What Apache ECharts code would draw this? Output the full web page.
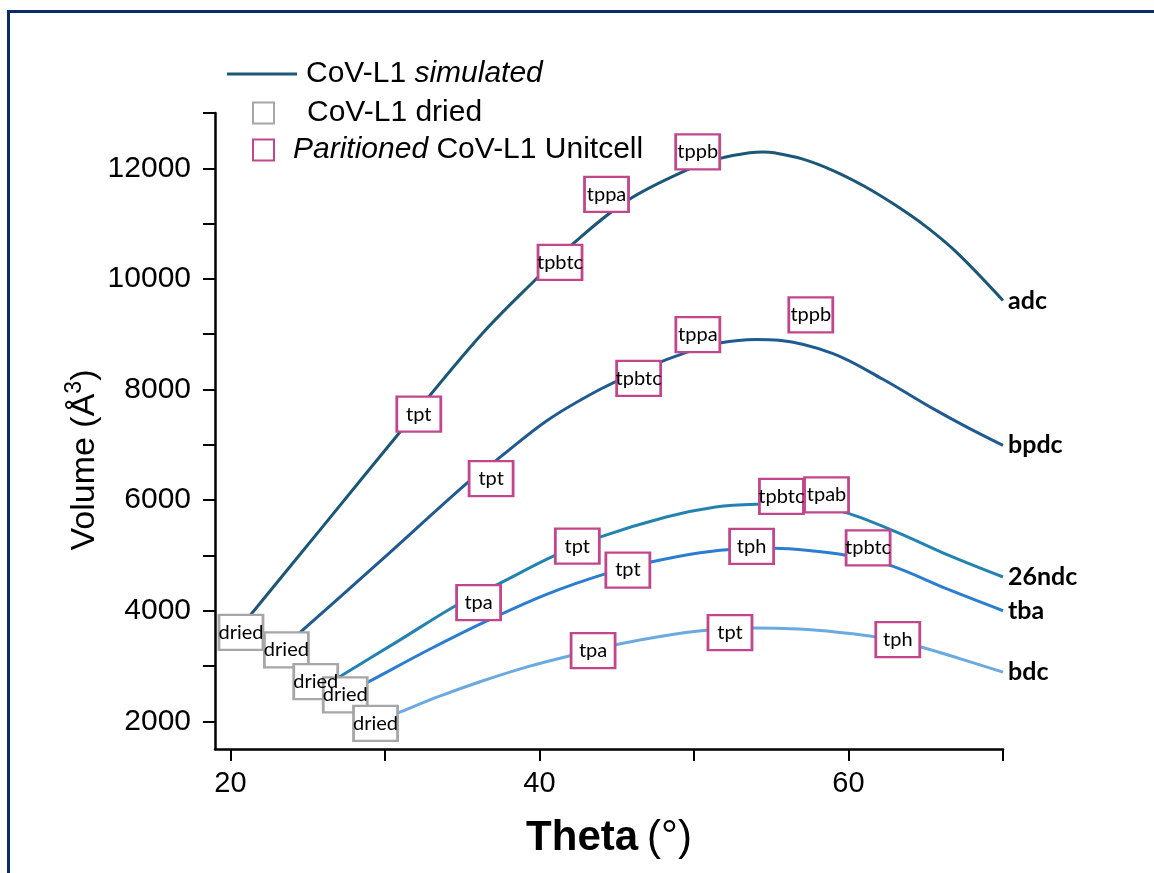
<!DOCTYPE html>
<html><head><meta charset="utf-8">
<script src="https://cdn.jsdelivr.net/npm/echarts@6/dist/echarts.min.js"></script>
<style>html,body{margin:0;padding:0;background:#fff}#c{width:1154px;height:873px}</style>
</head><body><div id="c"></div>
<script>
// ---- tick values ----
const xTickValues = [20, 30, 40, 50, 60, 70];
const xLabelValues = [20, 40, 60];
const yTickValues = [2000, 3000, 4000, 5000, 6000, 7000, 8000, 9000, 10000, 11000, 12000, 13000];
const yLabelValues = [2000, 4000, 6000, 8000, 10000, 12000];

// ---- simulated curves (theta, volume) ----
const curveNames = ['adc', 'bpdc', '26ndc', 'tba', 'bdc'];
const adcTheta = [20.7, 26.0, 31.0, 36.2, 39.9, 42.1, 45.7, 49.7, 51.7, 53.6, 54.5, 55.3, 57.0, 59.0, 61.0, 63.0, 65.0, 67.0, 70.0];
const adcVol   = [3720, 5530, 7240, 8980, 10030, 10620, 11420, 11990, 12180, 12280, 12295, 12275, 12170, 11960, 11680, 11340, 10950, 10480, 9610];
const bpdcTheta = [23.6, 24.6, 29.75, 35.4, 37.2, 40.5, 43.9, 46.8, 49.6, 51.65, 54.0, 55.5, 59.0, 62.2, 65.5, 67.6, 70.0];
const bpdcVol   = [3385, 3630, 4910, 6330, 6720, 7440, 8000, 8380, 8680, 8840, 8905, 8890, 8650, 8190, 7650, 7330, 6990];
const ndcTheta = [25.5, 27.2, 30.9, 34.6, 37.3, 41.0, 43.9, 48.2, 51.4, 54.0, 56.0, 58.0, 60.0, 63.3, 66.5, 70.0];
const ndcVol   = [2550, 2830, 3460, 4095, 4477, 5000, 5330, 5694, 5875, 5925, 5930, 5880, 5760, 5400, 5000, 4610];
const tbaTheta = [27.4, 28.9, 32.8, 36.7, 40.5, 44.3, 47.2, 50.4, 53.0, 55.2, 57.9, 59.9, 62.7, 66.5, 70.0];
const tbaVol   = [2500, 2710, 3290, 3830, 4300, 4670, 4880, 5050, 5120, 5130, 5075, 5000, 4820, 4380, 4000];
const bdcTheta = [29.4, 30.8, 33.5, 36.2, 39.2, 42.1, 45.0, 48.0, 51.0, 53.8, 56.8, 59.3, 61.8, 64.6, 67.2, 70.0];
const bdcVol   = [2000, 2150, 2450, 2720, 2985, 3195, 3390, 3545, 3650, 3688, 3668, 3612, 3525, 3350, 3135, 2890];

// ---- dried points ----
const driedLabels = ['dried', 'dried', 'dried', 'dried', 'dried'];
const driedTheta = [20.68, 23.62, 25.52, 27.43, 29.39];
const driedVol   = [3609, 3293, 2720, 2479, 1964];

// ---- partitioned unit cell points ----
const partLabels = ['tpt', 'tpbtc', 'tppa', 'tppb', 'tpt', 'tpbtc', 'tppa', 'tppb', 'tpa', 'tpt', 'tpbtc', 'tpab', 'tpt', 'tph', 'tpbtc', 'tpa', 'tpt', 'tph'];
const partTheta  = [32.19, 41.33, 44.34, 50.24, 36.87, 46.42, 50.25, 57.56, 36.06, 42.45, 55.66, 58.58, 45.72, 53.73, 61.27, 43.47, 52.33, 63.19];
const partVol    = [7554, 10299, 11528, 12296, 6388, 8201, 8993, 9350, 4148, 5168, 6068, 6095, 4736, 5164, 5137, 3278, 3606, 3479];

const curveColors = ['#1b5878', '#1f5b92', '#2383b0', '#2a7dd0', '#6aaae0'];
const curveThetas = [adcTheta, bpdcTheta, ndcTheta, tbaTheta, bdcTheta];
const curveVols = [adcVol, bpdcVol, ndcVol, tbaVol, bdcVol];

const SANS = '"Liberation Sans", Arial, sans-serif';
const LAB = 'Lato, "Open Sans", sans-serif';

const lineSeries = curveNames.map((nm, k) => ({
  type: 'line',
  name: 'CoV-L1 simulated',
  data: curveThetas[k].map((t, i) => [t, curveVols[k][i]]),
  smooth: 0.35,
  showSymbol: false,
  symbol: 'none',
  lineStyle: { color: curveColors[k], width: 3 },
  itemStyle: { color: curveColors[k] },
  z: 2,
  silent: true,
  endLabel: {
    show: true,
    formatter: nm,
    distance: 5,
    color: '#000',
    fontFamily: LAB,
    fontWeight: 'bold',
    fontSize: 25
  }
}));

const boxLabel = { show: true, position: 'inside', formatter: '{b}', color: '#000', fontFamily: LAB, fontSize: 20 };

const driedSeries = {
  type: 'scatter',
  name: 'CoV-L1 dried',
  data: driedTheta.map((t, i) => ({ name: driedLabels[i], value: [t, driedVol[i]] })),
  symbol: 'rect',
  symbolSize: [44, 35],
  itemStyle: { color: '#fff', borderColor: '#a6a6a6', borderWidth: 2.5, opacity: 1 },
  label: boxLabel,
  z: 5, silent: true
};

const partSeries = {
  type: 'scatter',
  name: 'Paritioned CoV-L1 Unitcell',
  data: partTheta.map((t, i) => ({ name: partLabels[i], value: [t, partVol[i]] })),
  symbol: 'rect',
  symbolSize: [44, 35],
  itemStyle: { color: '#fff', borderColor: '#c2468c', borderWidth: 2.5, opacity: 1 },
  label: boxLabel,
  z: 6, silent: true
};

const legRich = {
  sp: { width: 28, fontSize: 30 },
  sp2: { width: 14, fontSize: 30 },
  sp0: { width: 4, fontSize: 30 },
  n: { fontFamily: SANS, fontSize: 30, color: '#000', lineHeight: 34 },
  i: { fontFamily: SANS, fontSize: 30, fontStyle: 'italic', color: '#000', lineHeight: 34 }
};

const option = {
  backgroundColor: '#fff',
  animation: false,
  grid: { left: 215, right: 151, top: 113, bottom: 124 },
  legend: [
    {
      data: [{ name: 'CoV-L1 simulated', icon: 'rect', itemStyle: { color: curveColors[0], borderWidth: 0 } }],
      left: 227, top: 54, padding: [5, 0, 0, 0], itemWidth: 70, itemHeight: 3, selectedMode: false,
      formatter: () => '{sp0| }{n|CoV-L1 }{i|simulated}',
      textStyle: { rich: legRich }
    },
    {
      data: [{ name: 'CoV-L1 dried', icon: 'rect', itemStyle: { color: '#fff', borderColor: '#a6a6a6', borderWidth: 2 } }],
      left: 252, top: 93, padding: [5, 0, 0, 0], itemWidth: 21, itemHeight: 21, selectedMode: false,
      formatter: () => '{sp| }{n|CoV-L1 dried}',
      textStyle: { rich: legRich }
    },
    {
      data: [{ name: 'Paritioned CoV-L1 Unitcell', icon: 'rect', itemStyle: { color: '#fff', borderColor: '#c2468c', borderWidth: 2 } }],
      left: 252, top: 130, padding: [5, 0, 0, 0], itemWidth: 21, itemHeight: 21, selectedMode: false,
      formatter: () => '{sp2| }{i|Paritioned}{n| CoV-L1 Unitcell}',
      textStyle: { rich: legRich }
    }
  ],
  xAxis: {
    type: 'value', min: 19, max: 70,
    name: '{b|Theta}{s| }{n|(°)}',
    nameLocation: 'middle', nameGap: 68,
    nameTextStyle: {
      rich: {
        b: { fontFamily: SANS, fontWeight: 'bold', fontSize: 42, color: '#000' },
        s: { width: 9, fontSize: 42 },
        n: { fontFamily: SANS, fontSize: 42, color: '#000' }
      }
    },
    axisLine: { show: true, onZero: false, lineStyle: { color: '#000', width: 2.5 } },
    axisTick: { show: true, length: 12, lineStyle: { color: '#000', width: 2 }, customValues: xTickValues },
    axisLabel: { show: true, customValues: xLabelValues, margin: 20, color: '#000', fontFamily: '"Liberation Sans Narrow", "Liberation Sans", sans-serif', fontSize: 29 },
    splitLine: { show: false }
  },
  yAxis: {
    type: 'value', min: 1500, max: 13000,
    name: 'Volume (Å{sup|3})',
    nameLocation: 'middle', nameGap: 108, nameMoveOverlap: false,
    nameTextStyle: {
      fontFamily: SANS, fontSize: 34, color: '#000', lineHeight: 44, padding: [0, 58, 0, 0],
      rich: { sup: { fontFamily: SANS, fontSize: 23, color: '#000', verticalAlign: 'top', lineHeight: 22 } }
    },
    axisLine: { show: true, onZero: false, lineStyle: { color: '#000', width: 2.5 } },
    axisTick: { show: true, length: 12, lineStyle: { color: '#000', width: 2 }, customValues: yTickValues },
    axisLabel: { show: true, customValues: yLabelValues, margin: 24, color: '#000', fontFamily: SANS, fontSize: 30, formatter: v => String(v) },
    splitLine: { show: false }
  },
  graphic: [{
    type: 'rect', silent: true, z: 100,
    shape: { x: 8.5, y: 11.5, width: 1400, height: 1000 },
    style: { fill: 'none', stroke: '#0b2b68', lineWidth: 3 }
  }],
  series: [...lineSeries, driedSeries, partSeries]
};

const chart = echarts.init(document.getElementById('c'), null, { renderer: 'canvas' });
chart.setOption(option);
</script>
</body></html>
